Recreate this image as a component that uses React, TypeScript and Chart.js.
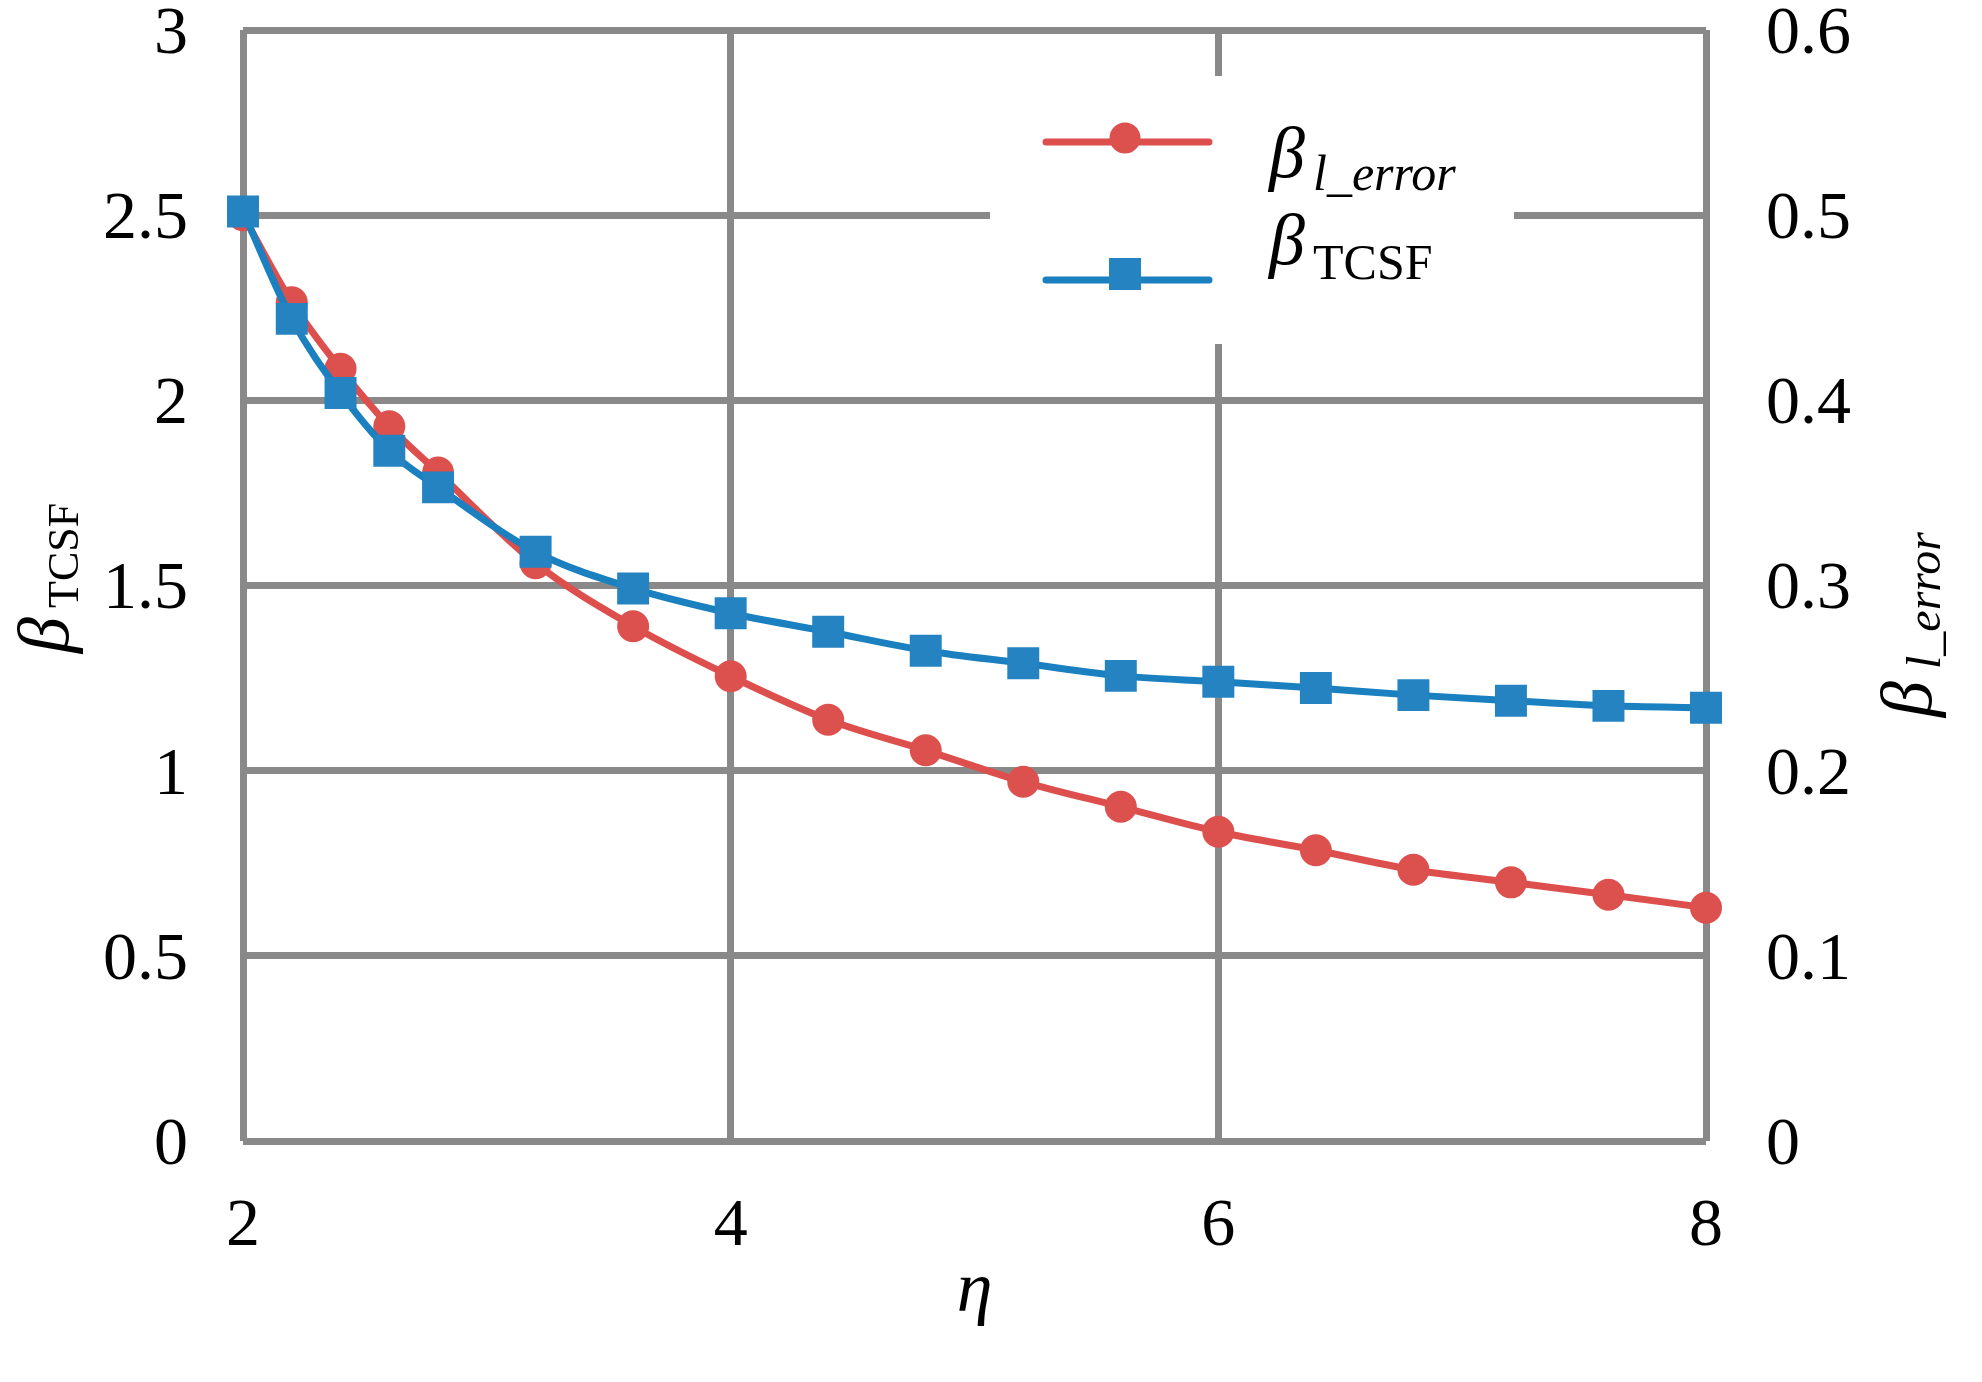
import React, { useEffect, useRef } from 'react';
import { Chart, registerables } from 'chart.js';

Chart.register(...registerables);

// ---- data ----
const etaValues = [2, 2.2, 2.4, 2.6, 2.8, 3.2, 3.6, 4, 4.4, 4.8, 5.2, 5.6, 6, 6.4, 6.8, 7.2, 7.6, 8];
const betaTCSF = [2.51, 2.22, 2.02, 1.864, 1.765, 1.591, 1.492, 1.425, 1.375, 1.324, 1.29, 1.256, 1.24, 1.223, 1.204, 1.189, 1.175, 1.17];
const betaLError = [0.5, 0.453, 0.417, 0.386, 0.361, 0.312, 0.278, 0.251, 0.2275, 0.211, 0.194, 0.1805, 0.167, 0.157, 0.1465, 0.1397, 0.133, 0.126];

const xRange = [2, 8];
const xStep = 2;
const leftRange = [0, 3];
const leftStep = 0.5;
const rightRange = [0, 0.6];
const rightStep = 0.1;

const legendLabels = [
  { main: 'β', sub: 'l_error' },
  { main: 'β', sub: 'TCSF' },
];
const xTitle = 'η';
const leftTitle = { main: 'β', sub: 'TCSF' };
const rightTitle = { main: 'β', sub: 'l_error' };

const FONT = '"Liberation Serif", "Times New Roman", serif';
const RED_LINE = '#dc4f4c';
const RED_MARK = '#dc504e';
const BLUE_LINE = '#1a80c0';
const BLUE_MARK = '#2483c0';
const GRID = '#898989';

const fmt = (v: number | string) => String(+Number(v).toFixed(2));

const overlayPlugin = {
  id: 'overlay',
  afterDraw(chart: any) {
    const ctx: CanvasRenderingContext2D = chart.ctx;
    const ca = chart.chartArea;
    ctx.save();

    // legend box
    ctx.fillStyle = '#ffffff';
    ctx.fillRect(990, 76, 524, 268);

    // legend item 1 (red, circle)
    ctx.lineCap = 'round';
    ctx.lineWidth = 7;
    ctx.strokeStyle = RED_LINE;
    ctx.beginPath();
    ctx.moveTo(1046, 142);
    ctx.lineTo(1209, 142);
    ctx.stroke();
    ctx.fillStyle = RED_MARK;
    ctx.beginPath();
    ctx.arc(1125, 138, 15.5, 0, Math.PI * 2);
    ctx.fill();

    // legend item 2 (blue, square)
    ctx.strokeStyle = BLUE_LINE;
    ctx.beginPath();
    ctx.moveTo(1046, 280);
    ctx.lineTo(1209, 280);
    ctx.stroke();
    ctx.fillStyle = BLUE_MARK;
    ctx.fillRect(1109, 258, 32, 32);

    // legend texts
    ctx.fillStyle = '#000';
    ctx.textAlign = 'left';
    ctx.textBaseline = 'alphabetic';
    ctx.font = `italic 72px ${FONT}`;
    ctx.fillText(legendLabels[0].main, 1269, 177);
    ctx.font = `italic 50px ${FONT}`;
    ctx.fillText(legendLabels[0].sub, 1313, 190);
    ctx.font = `italic 72px ${FONT}`;
    ctx.fillText(legendLabels[1].main, 1269, 264);
    ctx.font = `50px ${FONT}`;
    ctx.fillText(legendLabels[1].sub, 1313, 279);

    // x title
    ctx.textAlign = 'center';
    ctx.font = `italic 72px ${FONT}`;
    ctx.fillText(xTitle, (ca.left + ca.right) / 2, 1311);

    // left title (rotated)
    ctx.save();
    ctx.translate(68, 653);
    ctx.rotate(-Math.PI / 2);
    ctx.textAlign = 'left';
    ctx.font = `italic 72px ${FONT}`;
    ctx.fillText(leftTitle.main, 0, 0);
    ctx.font = `44px ${FONT}`;
    ctx.fillText(leftTitle.sub, 45, 10);
    ctx.restore();

    // right title (rotated)
    ctx.save();
    ctx.translate(1931, 717);
    ctx.rotate(-Math.PI / 2);
    ctx.textAlign = 'left';
    ctx.font = `italic 72px ${FONT}`;
    ctx.fillText(rightTitle.main, 0, 0);
    ctx.font = `italic 48px ${FONT}`;
    ctx.fillText(rightTitle.sub, 48, 9);
    ctx.restore();

    ctx.restore();
  },
};

export default function App() {
  const canvasRef = useRef<HTMLCanvasElement | null>(null);

  useEffect(() => {
    document.body.style.margin = '0';
    const canvas = canvasRef.current;
    if (!canvas) return;

    const chart = new Chart(canvas, {
      type: 'line',
      data: {
        datasets: [
          {
            label: 'βTCSF',
            data: etaValues.map((x, i) => ({ x, y: betaTCSF[i] })),
            yAxisID: 'y',
            borderColor: BLUE_LINE,
            backgroundColor: BLUE_MARK,
            borderWidth: 7,
            pointStyle: 'rect',
            pointRadius: 22.6,
            pointBorderWidth: 0,
            pointBackgroundColor: BLUE_MARK,
            cubicInterpolationMode: 'monotone',
            clip: false,
          },
          {
            label: 'βl_error',
            data: etaValues.map((x, i) => ({ x, y: betaLError[i] })),
            yAxisID: 'y1',
            borderColor: RED_LINE,
            backgroundColor: RED_MARK,
            borderWidth: 7,
            pointStyle: 'circle',
            pointRadius: 16,
            pointBorderWidth: 0,
            pointBackgroundColor: RED_MARK,
            cubicInterpolationMode: 'monotone',
            clip: false,
          },
        ],
      },
      options: {
        responsive: false,
        animation: false,
        events: [],
        layout: { padding: { top: 30, left: 0, right: 0, bottom: 0 } },
        plugins: {
          legend: { display: false },
          tooltip: { enabled: false },
          title: { display: false },
        },
        scales: {
          x: {
            type: 'linear',
            position: 'bottom',
            min: xRange[0],
            max: xRange[1],
            ticks: {
              stepSize: xStep,
              padding: 45,
              color: '#000',
              font: { family: FONT, size: 68 },
              callback: (v: any) => fmt(v),
              maxRotation: 0,
            },
            grid: { color: GRID, lineWidth: 7, drawTicks: false },
            border: { display: false },
            afterFit: (s: any) => {
              s.height = 241;
              s.paddingLeft = 0;
              s.paddingRight = 0;
            },
          },
          y: {
            type: 'linear',
            position: 'left',
            min: leftRange[0],
            max: leftRange[1],
            ticks: {
              stepSize: leftStep,
              padding: 55,
              labelOffset: 5,
              color: '#000',
              font: { family: FONT, size: 68 },
              callback: (v: any) => fmt(v),
            },
            grid: { color: GRID, lineWidth: 7, drawTicks: false },
            border: { display: false },
            afterFit: (s: any) => {
              s.width = 243;
              s.paddingTop = 0;
              s.paddingBottom = 0;
            },
          },
          y1: {
            type: 'linear',
            position: 'right',
            min: rightRange[0],
            max: rightRange[1],
            ticks: {
              stepSize: rightStep,
              padding: 60,
              labelOffset: 5,
              color: '#000',
              font: { family: FONT, size: 68 },
              callback: (v: any) => fmt(v),
            },
            grid: { display: false, drawTicks: false },
            border: { display: false },
            afterFit: (s: any) => {
              s.width = 276;
              s.paddingTop = 0;
              s.paddingBottom = 0;
            },
          },
        },
      },
      plugins: [overlayPlugin],
    } as any);

    return () => {
      chart.destroy();
    };
  }, []);

  return (
    <div style={{ width: 1982, height: 1382, background: '#fff' }}>
      <canvas ref={canvasRef} width={1982} height={1382} style={{ display: 'block' }} />
    </div>
  );
}
